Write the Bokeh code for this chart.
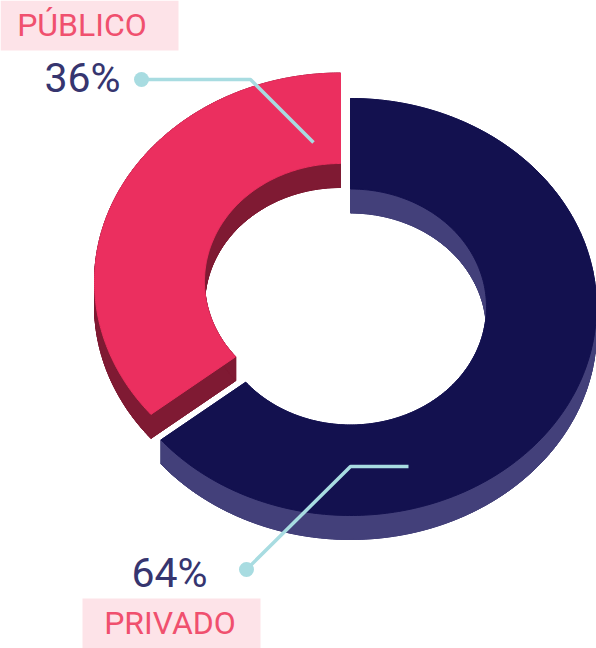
import numpy as np
from bokeh.plotting import figure
from bokeh.models import Range1d
from bokeh.core.properties import value
from bokeh.embed import file_html
from bokeh.resources import INLINE

# ---- data ----
categories = ["PRIVADO", "PÚBLICO"]
shares = [64, 36]
pct_labels = ["64%", "36%"]

# ---- styling / layout constants ----
top_colors = ["#13114F", "#EB2F5F"]
side_colors = ["#43407A", "#7F1A33"]
W, H = 596, 648
CX, CY = 350, 306.5
RX_OUT, RY_OUT = 246, 208.5
RX_IN, RY_IN = 136, 118
DEPTH = 24
explode = [(0, 0), (-10, -25.5)]

label_box = [(82, 260, 598, 648), (0, 178, 0, 50)]      # left, right, top, bottom
label_pos = [(169.5, 622.5), (81.5, 24)]
pct_pos = [(207, 572), (120, 77)]
callouts = [[(246, 569), (350, 466), (408, 466)],
            [(141, 79), (250, 79), (313, 142)]]

p = figure(width=W, height=H, x_range=Range1d(0, W), y_range=Range1d(H, 0),
           output_backend="svg", toolbar_location=None, min_border=0)
p.axis.visible = False
p.grid.visible = False
p.outline_line_color = None
p.background_fill_color = "white"
p.border_fill_color = "white"

total = float(sum(shares))
start = 0.0
for i, v in enumerate(shares):
    t0 = start
    t1 = start + 2 * np.pi * v / total
    start = t1
    to = np.linspace(t0, t1, 240)
    ti = to[::-1]
    ox, oy = explode[i]
    xs = np.concatenate([CX + ox + RX_OUT * np.sin(to), CX + ox + RX_IN * np.sin(ti)])
    ys = np.concatenate([CY + oy - RY_OUT * np.cos(to), CY + oy - RY_IN * np.cos(ti)])
    qx, qy = [], []
    m = len(xs)
    for k in range(m):
        a, b = k, (k + 1) % m
        qx.append([xs[a], xs[b], xs[b], xs[a]])
        qy.append([ys[a], ys[b], ys[b] + DEPTH, ys[a] + DEPTH])
    qx.append(list(xs))
    qy.append(list(ys + DEPTH))
    p.patches(qx, qy, fill_color=side_colors[i], line_color=side_colors[i], line_width=1)
    p.patch(list(xs), list(ys), fill_color=top_colors[i], line_color=top_colors[i], line_width=1)

# label boxes
p.quad(left=[b[0] for b in label_box], right=[b[1] for b in label_box],
       top=[b[2] for b in label_box], bottom=[b[3] for b in label_box],
       fill_color="#FDE3E8", line_color=None)

p.text(x=[q[0] for q in label_pos], y=[q[1] for q in label_pos], text=categories,
       text_font=value("Roboto"), text_font_size="32px", text_color="#F0506E",
       text_align="center", text_baseline="middle")

p.text(x=[q[0] for q in pct_pos], y=[q[1] for q in pct_pos], text=pct_labels,
       text_font=value("Roboto"), text_font_size="41px", text_color="#36356F",
       text_align="right", text_baseline="middle")

# callouts
p.multi_line(xs=[[pt[0] for pt in c] for c in callouts],
             ys=[[pt[1] for pt in c] for c in callouts],
             line_color="#A8DCE1", line_width=3.5)
p.scatter(x=[c[0][0] for c in callouts], y=[c[0][1] for c in callouts],
          size=15, fill_color="#A8DCE1", line_color=None)

open("out.html", "w").write(file_html(p, INLINE))
